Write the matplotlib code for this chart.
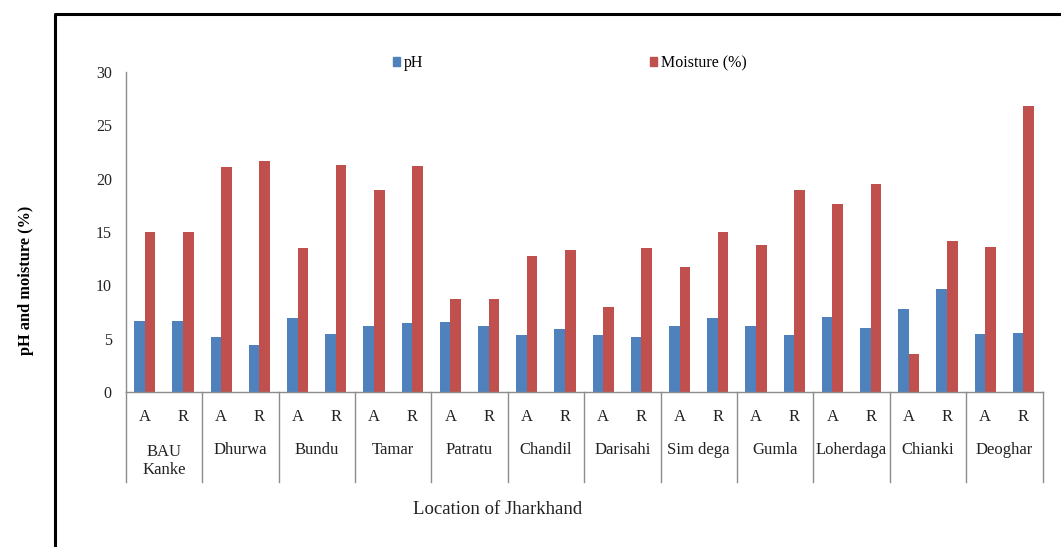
import matplotlib
matplotlib.use("Agg")
import matplotlib.pyplot as plt
import numpy as np
from matplotlib.lines import Line2D
from matplotlib.patches import Patch

locations = ["BAU\nKanke", "Dhurwa", "Bundu", "Tamar", "Patratu", "Chandil",
             "Darisahi", "Sim dega", "Gumla", "Loherdaga", "Chianki", "Deoghar"]
sub_labels = ["A", "R"]
ph = [6.65, 6.65, 5.2, 4.4, 6.9, 5.45, 6.2, 6.45, 6.55, 6.2, 5.3, 5.9,
      5.3, 5.2, 6.2, 6.9, 6.2, 5.3, 7.0, 6.0, 7.8, 9.7, 5.45, 5.55]
moisture = [15.0, 15.0, 21.1, 21.65, 13.5, 21.3, 18.9, 21.2, 8.7, 8.7, 12.75, 13.3,
            8.0, 13.5, 11.7, 15.0, 13.75, 18.9, 17.6, 19.5, 3.6, 14.2, 13.6, 26.8]

BLUE = "#4F81BD"
RED = "#C0504D"
GRAY = "#8C8C8C"
plt.rcParams['font.family'] = ['Liberation Serif', 'DejaVu Serif']

W, H = 1061, 547
fig = plt.figure(figsize=(W / 100, H / 100), dpi=100)
left, right, bottom, top = 125.7, 1042.5, 392, 72
ax = fig.add_axes([left / W, 1 - bottom / H, (right - left) / W, (bottom - top) / H])

n = len(ph)
x = np.arange(n)
bw = 0.28
ax.bar(x - bw / 2, ph, width=bw, color=BLUE, label="pH")
ax.bar(x + bw / 2, moisture, width=bw, color=RED, label="Moisture (%)")

ax.set_xlim(-0.5, n - 0.5)
ax.set_ylim(0, 30)
ax.set_yticks(np.arange(0, 31, 5))
ax.tick_params(axis='y', length=0, pad=10, labelsize=11.5, colors='#222222')
ax.set_xticks([])
for s in ["top", "right"]:
    ax.spines[s].set_visible(False)
for s in ["left", "bottom"]:
    ax.spines[s].set_color(GRAY)
    ax.spines[s].set_linewidth(1.0)

trans = ax.get_xaxis_transform()
span = bottom - top
sep_bottom = (bottom - 482) / span
for k in range(len(locations) + 1):
    xs = -0.5 + 2 * k
    ax.add_line(Line2D([xs, xs], [0, sep_bottom], transform=trans, color=GRAY,
                       lw=1.0, clip_on=False))

ar_y = (bottom - 421) / span
for i in range(n):
    ax.text(i, ar_y, sub_labels[i % 2], transform=trans, ha='center', va='baseline',
            fontsize=12, color='#222222')

line_px = 20
for k, name in enumerate(locations):
    extra = (name.count("\n")) * line_px
    ax.text(2 * k + 0.5, (bottom - 454 - extra) / span, name, transform=trans,
            ha='center', va='baseline', fontsize=12, color='#222222', linespacing=1.2)

fig.text(498 / W, 1 - 514 / H, "Location of Jharkhand", ha='center', va='baseline',
         fontsize=13.5, color='#222222')
fig.text(26 / W, 1 - 280 / H, "pH and moisture (%)", rotation=90, ha='center',
         va='center', fontsize=11.8, fontweight='bold', color='black')

handles = [Patch(color=BLUE, label="pH"), Patch(color=RED, label="Moisture (%)")]
fig.legend(handles=handles, ncol=2, loc='center', bbox_to_anchor=(570 / W, 1 - 63 / H),
           frameon=False, fontsize=11.5, handlelength=0.45, handleheight=0.45,
           handletextpad=0.25, columnspacing=14.2)

fig.add_artist(Line2D([54.5 / W, 54.5 / W, 1.0], [0.0, 1 - 14 / H, 1 - 14 / H],
                      transform=fig.transFigure, color='black', lw=2.2))

fig.savefig("out.png", dpi=100)
